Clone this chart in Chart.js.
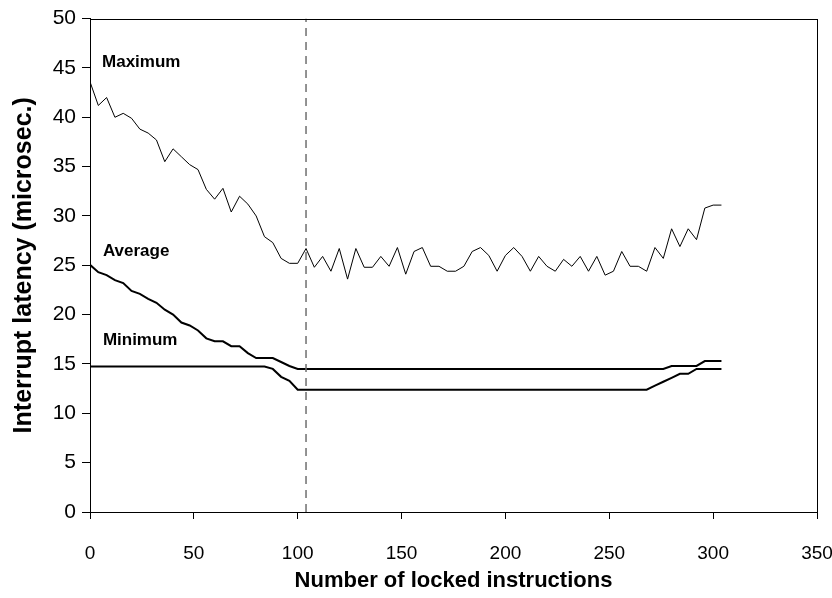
<!DOCTYPE html>
<html>
<head>
<meta charset="utf-8">
<script src="https://cdn.jsdelivr.net/npm/chart.js@4"></script>
<style>
  html, body { margin: 0; padding: 0; background: #fff; }
  #wrap { width: 832px; height: 598px; }
</style>
</head>
<body>
<div id="wrap"><canvas id="c" width="832" height="598"></canvas></div>
<script>
// Number of locked instructions (x positions of samples)
const lockedInstructions = [0, 4, 8, 12, 16, 20, 24, 28, 32, 36, 40, 44, 48, 52, 56, 60, 64, 68, 72, 76,
  80, 84, 88, 92, 96, 100, 104, 108, 112, 116, 120, 124, 128, 132, 136, 140, 144, 148, 152, 156,
  160, 164, 168, 172, 176, 180, 184, 188, 192, 196, 200, 204, 208, 212, 216, 220, 224, 228, 232, 236,
  240, 244, 248, 252, 256, 260, 264, 268, 272, 276, 280, 284, 288, 292, 296, 300, 304];

const maximumLatency = [43.6, 41.2, 42.0, 40.0, 40.4, 39.9, 38.8, 38.4, 37.7, 35.5,
  36.8, 36.0, 35.2, 34.7, 32.7, 31.7, 32.8, 30.4, 32.0, 31.2,
  30.0, 27.9, 27.3, 25.7, 25.2, 25.2, 26.7, 24.8, 25.9, 24.4,
  26.7, 23.6, 26.7, 24.8, 24.8, 25.9, 24.9, 26.8, 24.1, 26.4,
  26.8, 24.9, 24.9, 24.4, 24.4, 24.9, 26.4, 26.8, 26.0, 24.4,
  26.0, 26.8, 25.9, 24.4, 25.9, 24.9, 24.4, 25.6, 24.9, 25.9,
  24.4, 25.9, 24.0, 24.4, 26.4, 24.9, 24.9, 24.4, 26.8, 25.7,
  28.7, 26.9, 28.7, 27.6, 30.8, 31.1, 31.1];

const averageLatency = [25.05, 24.3, 24.0, 23.5, 23.2, 22.4, 22.1, 21.6, 21.2, 20.5,
  20.0, 19.2, 18.9, 18.4, 17.6, 17.3, 17.3, 16.8, 16.8, 16.1,
  15.6, 15.6, 15.6, 15.2, 14.8, 14.5, 14.5, 14.5, 14.5, 14.5,
  14.5, 14.5, 14.5, 14.5, 14.5, 14.5, 14.5, 14.5, 14.5, 14.5,
  14.5, 14.5, 14.5, 14.5, 14.5, 14.5, 14.5, 14.5, 14.5, 14.5,
  14.5, 14.5, 14.5, 14.5, 14.5, 14.5, 14.5, 14.5, 14.5, 14.5,
  14.5, 14.5, 14.5, 14.5, 14.5, 14.5, 14.5, 14.5, 14.5, 14.5,
  14.8, 14.8, 14.8, 14.8, 15.3, 15.3, 15.3];

const minimumLatency = [14.75, 14.75, 14.75, 14.75, 14.75, 14.75, 14.75, 14.75, 14.75, 14.75,
  14.75, 14.75, 14.75, 14.75, 14.75, 14.75, 14.75, 14.75, 14.75, 14.75,
  14.75, 14.75, 14.5, 13.7, 13.3, 12.4, 12.4, 12.4, 12.4, 12.4,
  12.4, 12.4, 12.4, 12.4, 12.4, 12.4, 12.4, 12.4, 12.4, 12.4,
  12.4, 12.4, 12.4, 12.4, 12.4, 12.4, 12.4, 12.4, 12.4, 12.4,
  12.4, 12.4, 12.4, 12.4, 12.4, 12.4, 12.4, 12.4, 12.4, 12.4,
  12.4, 12.4, 12.4, 12.4, 12.4, 12.4, 12.4, 12.4, 12.8, 13.2,
  13.6, 14.0, 14.0, 14.5, 14.5, 14.5, 14.5];

// Vertical dashed marker position
const markerX = 104;
const yRange = [0, 50];

// Series name labels, drawn in data coordinates
const seriesLabels = [
  { text: 'Maximum', x: 5.8, y: 45.6 },
  { text: 'Average', x: 6.2, y: 26.4 },
  { text: 'Minimum', x: 6.2, y: 17.4 }
];

const toPoints = (ys) => ys.map((v, i) => ({ x: lockedInstructions[i], y: v }));

const FONT = "'Liberation Sans', Arial, sans-serif";

const framePlugin = {
  id: 'frame',
  afterDatasetsDraw(chart) {
    const { ctx, chartArea: a, scales } = chart;
    ctx.save();
    ctx.strokeStyle = '#000';
    ctx.lineWidth = 1;
    ctx.strokeRect(Math.round(a.left) + 0.5, Math.round(a.top) + 0.5,
      Math.round(a.right - a.left), Math.round(a.bottom - a.top));
    ctx.fillStyle = '#000';
    ctx.font = "bold 17px " + FONT;
    ctx.textBaseline = 'middle';
    ctx.textAlign = 'left';
    seriesLabels.forEach(l => {
      ctx.fillText(l.text, scales.x.getPixelForValue(l.x), scales.y.getPixelForValue(l.y));
    });
    ctx.restore();
  }
};

new Chart(document.getElementById('c'), {
  type: 'line',
  data: {
    datasets: [
      {
        label: 'marker',
        data: [{ x: markerX, y: yRange[0] }, { x: markerX, y: yRange[1] }],
        borderColor: '#6e6e6e',
        borderWidth: 1.5,
        borderDash: [8, 6],
        pointRadius: 0,
        tension: 0
      },
      {
        label: 'Maximum',
        data: toPoints(maximumLatency),
        borderColor: '#000',
        borderWidth: 1,
        pointRadius: 0,
        tension: 0
      },
      {
        label: 'Average',
        data: toPoints(averageLatency),
        borderColor: '#000',
        borderWidth: 2,
        pointRadius: 0,
        tension: 0
      },
      {
        label: 'Minimum',
        data: toPoints(minimumLatency),
        borderColor: '#000',
        borderWidth: 2,
        pointRadius: 0,
        tension: 0
      }
    ]
  },
  options: {
    responsive: false,
    animation: false,
    devicePixelRatio: 1,
    layout: { padding: { top: 17, right: 15, left: 0, bottom: 0 } },
    plugins: { legend: { display: false }, tooltip: { enabled: false } },
    scales: {
      x: {
        type: 'linear',
        min: 0, max: 350,
        afterFit(s) { s.height = 86; s.paddingLeft = 0; s.paddingRight = 0; },
        ticks: { stepSize: 50, color: '#000', padding: 23, font: { family: FONT, size: 19 } },
        grid: { drawOnChartArea: false, drawTicks: true, tickLength: 7, color: '#000' },
        border: { display: true, color: '#000', width: 1 },
        title: { display: true, text: 'Number of locked instructions', color: '#000',
          padding: { top: 0, bottom: 4 }, font: { family: FONT, size: 22, weight: 'bold' } }
      },
      y: {
        min: 0, max: 50,
        afterFit(s) { s.width = 90; },
        ticks: { stepSize: 5, color: '#000', padding: 6, font: { family: FONT, size: 21 } },
        grid: { drawOnChartArea: false, drawTicks: true, tickLength: 8, color: '#000' },
        border: { display: true, color: '#000', width: 1 },
        title: { display: true, text: 'Interrupt latency (microsec.)', color: '#000',
          padding: { top: 9, bottom: 0 }, font: { family: FONT, size: 25, weight: 'bold' } }
      }
    }
  },
  plugins: [framePlugin]
});
</script>
</body>
</html>
